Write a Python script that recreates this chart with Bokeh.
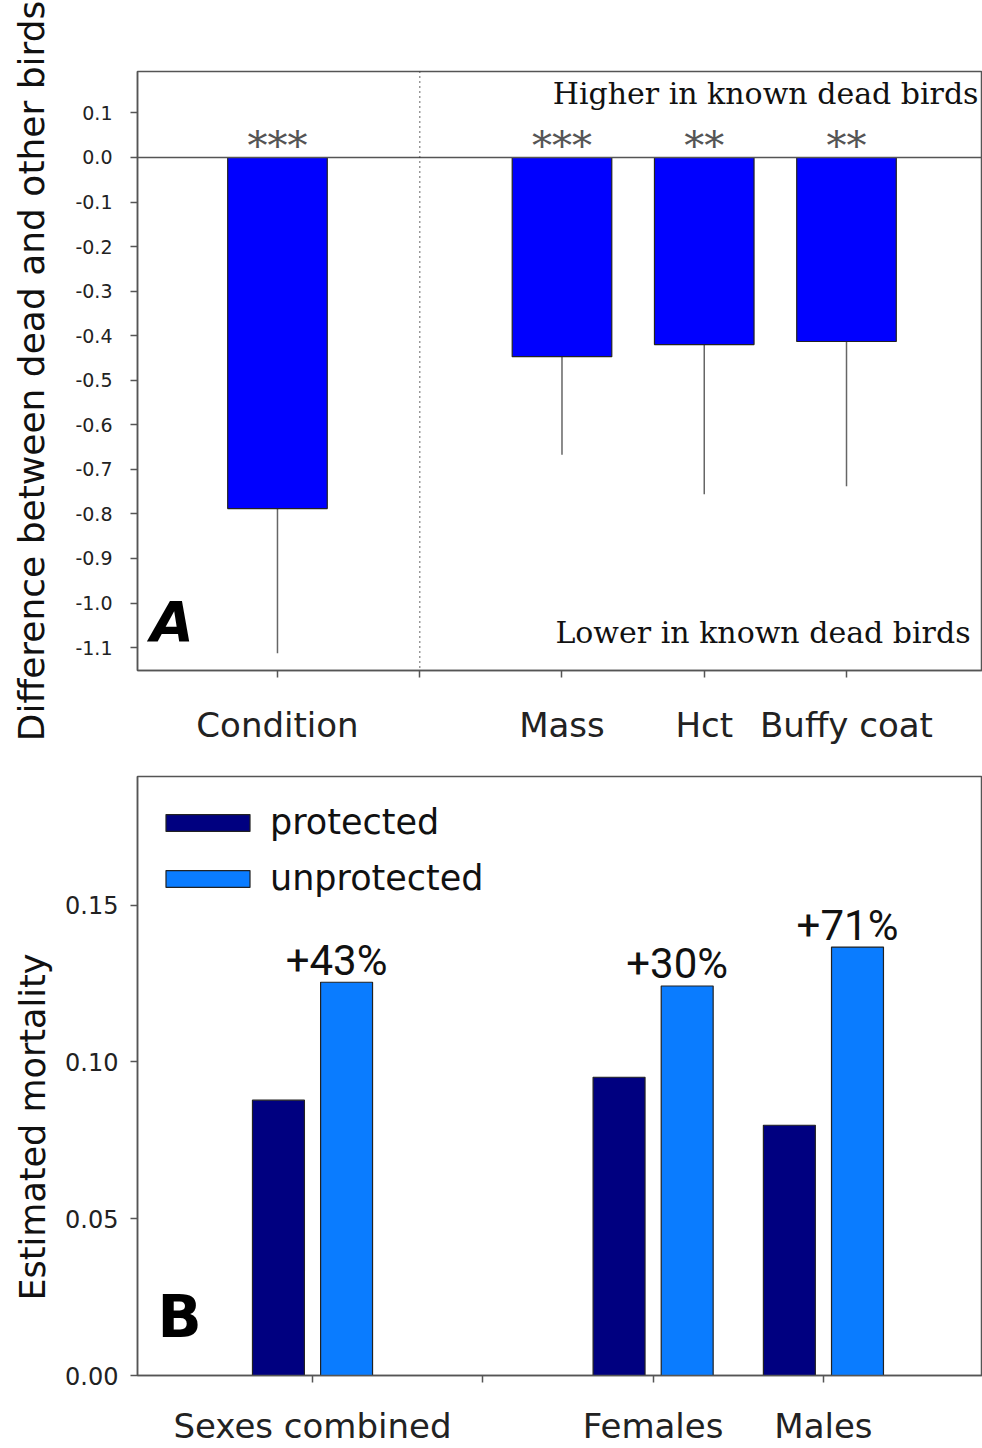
from bokeh.plotting import figure
from bokeh.models import (ColumnDataSource, FixedTicker, NumeralTickFormatter, Span, Label,
                          Legend, LegendItem, Range1d, Title)
from bokeh.layouts import column
from bokeh.embed import file_html
from bokeh.resources import INLINE
from bokeh.core.properties import value
from bokeh.transform import dodge

# ---------------- Panel A data ----------------
slots_a = ["Condition", "", "Mass", "Hct", "Buffy coat"]      # axis slots ("" = divider slot)
traits_a = ["Condition", "Mass", "Hct", "Buffy coat"]
diff_a = [-0.788, -0.447, -0.420, -0.413]
err_low_a = [-1.113, -0.667, -0.756, -0.738]
stars_a = ["***", "***", "**", "**"]
yticks_a = [0.1, 0.0, -0.1, -0.2, -0.3, -0.4, -0.5, -0.6, -0.7, -0.8, -0.9, -1.0, -1.1]

# ---------------- Panel B data ----------------
slots_b = ["Sexes combined", "", "Females", "Males"]
groups_b = ["Sexes combined", "Females", "Males"]
protected_b = [0.0878, 0.0951, 0.0798]
unprotected_b = [0.1254, 0.1242, 0.1366]
change_b = ["+43%", "+30%", "+71%"]
yticks_b = [0.0, 0.05, 0.10, 0.15]

SANS = "DejaVu Sans"
SERIF = "DejaVu Serif"
AX = "#555555"


def style_axes(p, tick_font_x, tick_font_y):
    p.xgrid.visible = False
    p.ygrid.visible = False
    p.outline_line_color = AX
    p.outline_line_width = 1.5
    for ax in (p.xaxis[0], p.yaxis[0]):
        ax.axis_line_color = AX
        ax.axis_line_width = 1.5
        ax.major_tick_line_color = AX
        ax.major_tick_line_width = 1.5
        ax.major_tick_in = 0
        ax.major_tick_out = 7
        ax.minor_tick_line_color = None
        ax.major_label_text_font = SANS
        ax.major_label_text_color = "#222222"
        ax.axis_label_text_font = SANS
        ax.axis_label_text_font_style = "normal"
        ax.axis_label_text_color = "#111111"
    p.xaxis.major_label_text_font_size = tick_font_x
    p.yaxis.major_label_text_font_size = tick_font_y


# ================= Panel A =================
xa = [slots_a.index(t) + 1 for t in traits_a]
src_a = ColumnDataSource(dict(x=xa, diff=diff_a, err=err_low_a, stars=stars_a,
                              zero=[0.0] * len(traits_a)))

p1 = figure(width=982, height=760, x_range=Range1d(0.016, 5.956), y_range=Range1d(-1.1515, 0.193),
            output_backend="svg", toolbar_location=None,
            min_border_left=137, min_border_right=0, min_border_top=71, min_border_bottom=90)
style_axes(p1, "34px", "19px")
p1.xaxis.ticker = FixedTicker(ticks=list(range(1, len(slots_a) + 1)))
p1.xaxis.major_label_overrides = {i + 1: s for i, s in enumerate(slots_a)}
p1.xaxis.major_label_standoff = 27
p1.yaxis.ticker = FixedTicker(ticks=yticks_a)
p1.yaxis.formatter = NumeralTickFormatter(format="0.0")
p1.yaxis.major_label_standoff = 18
p1.yaxis.axis_label = "Difference between dead and other birds"
p1.yaxis.axis_label_text_font_size = "36px"
p1.yaxis.axis_label_standoff = 20

p1.add_layout(Span(location=0, dimension="width", line_color=AX, line_width=1.5))
p1.add_layout(Span(location=slots_a.index("") + 1, dimension="height",
                   line_color="#333333", line_width=1.5, line_dash="1 4"))

p1.segment(x0="x", y0="diff", x1="x", y1="err", source=src_a, line_color="#666666", line_width=1.5)
p1.vbar(x="x", top="diff", bottom="zero", width=0.7, source=src_a,
        fill_color="#0000ff", line_color="#222222", line_width=1.2)
p1.text(x="x", y="zero", text="stars", source=src_a, text_align="center",
        text_baseline="middle", y_offset=-12, text_font=value(SERIF),
        text_font_size="40px", text_color="#555555")

p1.add_layout(Label(x=5.928, y=0.1437, text="Higher in known dead birds", text_align="right",
                    text_baseline="middle", text_font=SERIF, text_font_size="30px",
                    text_color="#111111"))
p1.add_layout(Label(x=5.872, y=-1.066, text="Lower in known dead birds", text_align="right",
                    text_baseline="middle", text_font=SERIF, text_font_size="30px",
                    text_color="#111111"))
p1.add_layout(Label(x=0.107, y=-1.0415, text="A", text_align="left", text_baseline="middle",
                    text_font=SANS, text_font_size="56px", text_font_style="bold italic",
                    text_color="#000000"))

# ================= Panel B =================
xb = [slots_b.index(g) + 1 for g in groups_b]
src_b = ColumnDataSource(dict(x=xb, protected=protected_b, unprotected=unprotected_b,
                              change=change_b))

p2 = figure(width=982, height=688, x_range=Range1d(-0.0276, 4.934), y_range=Range1d(0, 0.191),
            output_backend="svg", toolbar_location=None,
            min_border_left=137, min_border_right=0, min_border_top=16, min_border_bottom=73)
style_axes(p2, "34px", "24px")
p2.xaxis.ticker = FixedTicker(ticks=list(range(1, len(slots_b) + 1)))
p2.xaxis.major_label_overrides = {i + 1: s for i, s in enumerate(slots_b)}
p2.xaxis.major_label_standoff = 23
p2.yaxis.ticker = FixedTicker(ticks=yticks_b)
p2.yaxis.formatter = NumeralTickFormatter(format="0.00")
p2.yaxis.major_label_standoff = 12

r_prot = p2.vbar(x=dodge("x", -0.2), top="protected", width=0.305, source=src_b,
                 fill_color="#000080", line_color="#222222", line_width=1.2)
r_unprot = p2.vbar(x=dodge("x", 0.2), top="unprotected", width=0.305, source=src_b,
                   fill_color="#0a7cff", line_color="#222222", line_width=1.2)
p2.text(x=dodge("x", 0.2), y="unprotected", text="change", source=src_b, text_align="center",
        text_baseline="middle", x_offset=-10, y_offset=-22, text_font=value("Roboto"),
        text_font_size="42px", text_color="#111111")

legend = Legend(items=[LegendItem(label="protected", renderers=[r_prot]),
                       LegendItem(label="unprotected", renderers=[r_unprot])],
                location="top_left", glyph_width=105, glyph_height=21, label_standoff=10,
                label_height=56, label_text_baseline="middle",
                label_text_font=SANS, label_text_font_size="35px", label_text_color="#111111",
                spacing=0, padding=0, margin=18, border_line_color=None,
                background_fill_alpha=0)
p2.add_layout(legend)

p2.add_layout(Title(text="Estimated mortality", align="left", offset=75, standoff=19,
                    text_font=SANS, text_font_size="35px", text_font_style="normal",
                    text_color="#111111"), "left")
p2.add_layout(Label(x=0.09, y=0.0188, text="B", text_align="left", text_baseline="middle",
                    text_font=SANS, text_font_size="58px", text_font_style="bold",
                    text_color="#000000"))

layout = column(p1, p2)
open("out.html", "w").write(file_html(layout, INLINE))
